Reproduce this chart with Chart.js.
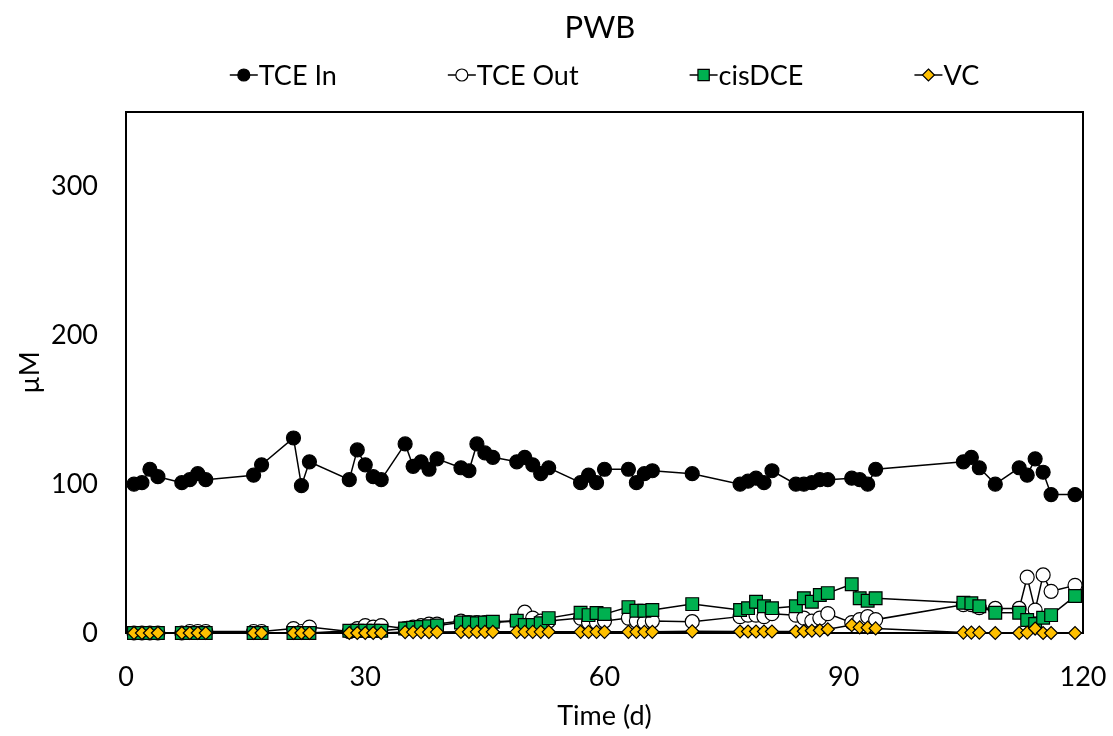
<!DOCTYPE html>
<html><head><meta charset="utf-8">
<script src="https://cdn.jsdelivr.net/npm/chart.js@4/dist/chart.umd.min.js"></script>
<style>html,body{margin:0;padding:0;background:#fff}</style>
</head><body>
<canvas id="c" width="1113" height="736"></canvas>
<script>
const chartTitle = 'PWB';
const xTitle = 'Time (d)';
const yTitle = 'µM';
const seriesNames = ['TCE In', 'TCE Out', 'cisDCE', 'VC'];
const xTicks = [0, 30, 60, 90, 120];
const yTicks = [0, 100, 200, 300];

const days = [1,2,3,4, 7,8,9,10, 16,17, 21,22,23, 28,29,30,31,32, 35,36,37,38,39, 42,43,44,45,46, 49,50,51,52,53, 57,58,59,60, 63,64,65,66, 71, 77,78,79,80,81, 84,85,86,87,88, 91,92,93,94, 105,106,107, 109, 112,113,114,115,116, 119];

const tceIn = [100,101,110,105, 101,103,107,103, 106,113, 131,99,115, 103,123,113,105,103, 127,112,115,110,117, 111,109,127,121,118, 115,118,113,107,111, 101,106,101,110, 110,101,107,109, 107, 100,102,104,101,109, 100,100,101,103,103, 104,103,100,110, 115,118,111, 100, 111,106,117,108,93, 93];

const tceOut = [0,0,0,0, 0,1,1,1, 1,1, 3,1,4, 1,3,5,4,5, 3,4,5,6,6, 8,7,7,7,7, 8,14,10,8,8, 10,7,7,8, 10,8,7,8, 7.6, 11,12,12,11,13, 12,10,8,10,13, 7,9,11,9, 19,19,17, 16.5, 16.5,37.5,15.4,39,28, 32];

const cisDCE = [0,0,0,0, 0,0,0,0, 0,0, 0,0,0, 1.5,1.5,1.5,1.5,1.5, 3,3.5,4,4.5,5, 7,7,6.6,7,7.6, 8.3,5.4,5.4,6.6,10, 13.6,12,13.4,12.7, 17.4,15,15,15.4, 19.4, 15.4,16.7,21,18,16.7, 18,23.4,21,25.5,26.8, 32.8,23.4,21.7,23.4, 20.3,20,18, 13.6, 13.6,8.7,6,10.3,12, 24.8];

const vc = [0,0,0,0, 0,0,0,0, 0,0, 0,0,0, 0,0,0,0,0, 0.6,0.6,0.6,0.6,0.6, 0.8,0.8,0.8,0.8,0.8, 0.8,0.8,0.8,0.8,0.8, 0.8,0.8,0.8,0.8, 0.8,0.8,0.8,0.8, 1.1, 1,1,1,1,1, 1,1.2,1.5,1.8,2.5, 5.3,3.8,3.6,3.1, 0.3,0.3,0.3, 0, 0,0.3,3,0,0, 0];

const FONT = 'Lato, "Open Sans", sans-serif';
const toXY = arr => days.map((d, i) => ({x: d, y: arr[i]}));

const styles = [
  {pointStyle: 'circle', radius: 7, bg: '#000000'},
  {pointStyle: 'circle', radius: 7, bg: '#ffffff'},
  {pointStyle: 'rect', radius: 9, bg: '#00B050'},
  {pointStyle: 'rectRot', radius: 6.5, bg: '#FFC000'}
];
const values = [tceIn, tceOut, cisDCE, vc];
const orders = [0, 3, 2, 1];

const datasets = values.map((v, i) => ({
  label: seriesNames[i],
  data: toXY(v),
  showLine: true,
  borderColor: '#000',
  borderWidth: 1.5,
  pointStyle: styles[i].pointStyle,
  pointRadius: styles[i].radius,
  pointHoverRadius: styles[i].radius,
  pointBackgroundColor: styles[i].bg,
  pointBorderColor: '#000',
  pointBorderWidth: 1.2,
  fill: false,
  tension: 0,
  clip: false,
  order: orders[i]
}));

function drawMarker(ctx, style, x, y, r, bg) {
  ctx.beginPath();
  if (style === 'circle') {
    ctx.arc(x, y, r, 0, Math.PI * 2);
  } else if (style === 'rect') {
    const s = r * Math.SQRT1_2;
    ctx.rect(x - s, y - s, 2 * s, 2 * s);
  } else {
    ctx.moveTo(x, y - r); ctx.lineTo(x + r, y); ctx.lineTo(x, y + r); ctx.lineTo(x - r, y); ctx.closePath();
  }
  ctx.fillStyle = bg; ctx.fill();
  ctx.lineWidth = 1.2; ctx.strokeStyle = '#000'; ctx.stroke();
}

const framePlugin = {
  id: 'frame',
  beforeDatasetsDraw(chart) {
    const {ctx, chartArea: a} = chart;
    ctx.save();
    ctx.strokeStyle = '#000';
    ctx.lineWidth = 2;
    ctx.strokeRect(a.left, a.top, a.right - a.left, a.bottom - a.top);
    ctx.restore();
  },
  afterDraw(chart) {
    const {ctx} = chart;
    ctx.save();
    ctx.fillStyle = '#000';
    ctx.textBaseline = 'middle';
    ctx.textAlign = 'center';
    ctx.font = '31px ' + FONT;
    ctx.fillText(chartTitle, 600, 28);
    ctx.font = '27px ' + FONT;
    ctx.textAlign = 'left';
    const lineW = 28, gap = 111, ly = 75;
    const items = chart.data.datasets.map((ds, i) => ({ds, i, w: lineW + 1 + ctx.measureText(ds.label).width}));
    const total = items.reduce((s, it) => s + it.w, 0) + gap * (items.length - 1);
    let x = (chart.chartArea.left + chart.chartArea.right) / 2 - total / 2;
    items.forEach(it => {
      ctx.beginPath();
      ctx.moveTo(x, ly); ctx.lineTo(x + lineW, ly);
      ctx.strokeStyle = '#000'; ctx.lineWidth = 1.5; ctx.stroke();
      const st = styles[it.i];
      drawMarker(ctx, st.pointStyle, x + lineW / 2, ly, st.pointStyle === 'rect' ? 8 : 6, st.bg);
      ctx.fillStyle = '#000';
      ctx.fillText(it.ds.label, x + lineW + 1, ly + 1);
      x += it.w + gap;
    });
    ctx.restore();
  }
};

new Chart(document.getElementById('c'), {
  type: 'scatter',
  data: {datasets},
  plugins: [framePlugin],
  options: {
    responsive: false,
    animation: false,
    layout: {padding: {top: 112, right: 30, left: 0, bottom: 0}},
    plugins: {legend: {display: false}, title: {display: false}, tooltip: {enabled: false}},
    scales: {
      x: {
        type: 'linear', min: 0, max: 120,
        afterBuildTicks: s => { s.ticks = xTicks.map(v => ({value: v})); },
        afterFit: s => { s.height = 103; s.paddingLeft = 0; s.paddingRight = 0; },
        grid: {display: false, drawTicks: false},
        border: {display: true, color: '#000', width: 2},
        ticks: {padding: 28, color: '#000', font: {family: FONT, size: 27}, maxRotation: 0, autoSkip: false},
        title: {display: true, text: xTitle, color: '#000', font: {family: FONT, size: 27}, padding: {top: 0, bottom: 4}}
      },
      y: {
        type: 'linear', min: 0, max: 350,
        afterBuildTicks: s => { s.ticks = yTicks.map(v => ({value: v})); },
        afterFit: s => { s.width = 126; s.paddingTop = 0; s.paddingBottom = 0; },
        grid: {display: false, drawTicks: false},
        border: {display: true, color: '#000', width: 2},
        ticks: {padding: 28, color: '#000', font: {family: FONT, size: 27}, autoSkip: false},
        title: {display: true, text: yTitle, color: '#000', font: {family: FONT, size: 27}, padding: {top: 14, bottom: 0}}
      }
    }
  }
});
</script>
</body></html>
